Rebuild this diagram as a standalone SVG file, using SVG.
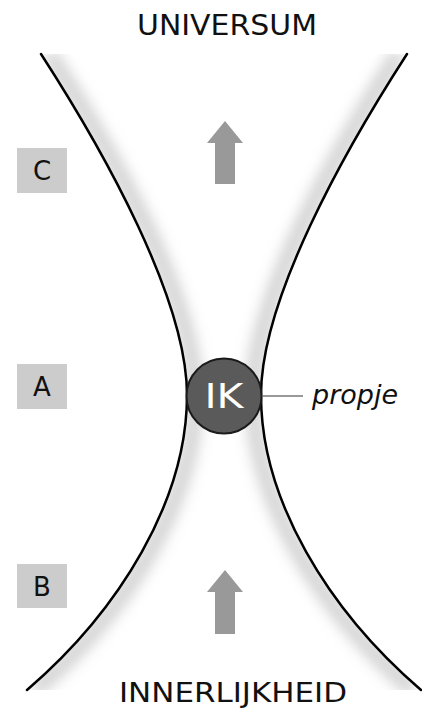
<svg xmlns="http://www.w3.org/2000/svg" width="422" height="711" viewBox="0 0 422 711">
<style>
.t{font-family:"DejaVu Sans","Liberation Sans",sans-serif;fill:#111}
.curve{fill:none;stroke:#000;stroke-width:2.5;stroke-linecap:round}
.glow{fill:none;stroke:#b4b4b4;stroke-width:16;opacity:0.6}
.box{fill:#cccccc}
.arrow{fill:#999999}
</style>
<defs>
<filter id="blur" x="-50%" y="-50%" width="200%" height="200%"><feGaussianBlur stdDeviation="7"/></filter>
<clipPath id="channel"><path d="M41,54 C105,153 187,300 187,395 C187,500 120,610 27,690 L421,690 C328,610 261,500 261,395 C261,300 343,153 407,54 Z"/></clipPath>
</defs>
<rect width="422" height="711" fill="#fff"/>
<g id="shadows" clip-path="url(#channel)">
<path class="glow" filter="url(#blur)" transform="translate(8,0)" d="M41,54 C105,153 187,300 187,395 C187,500 120,610 27,690"/>
<path class="glow" filter="url(#blur)" transform="translate(-8,0)" d="M407,54 C343,153 261,300 261,395 C261,500 328,610 421,690"/>
</g>
<g id="connectors">
<path id="left-curve" class="curve" d="M41,54 C105,153 187,300 187,395 C187,500 120,610 27,690"/>
<path id="right-curve" class="curve" d="M407,54 C343,153 261,300 261,395 C261,500 328,610 421,690"/>
<line x1="263" y1="396" x2="303" y2="396" stroke="#777" stroke-width="1.5"/>
</g>
<g id="arrow-top"><polygon class="arrow" points="225,121 243,143 235,143 235,184 215,184 215,143 207,143"/></g>
<g id="arrow-bottom"><polygon class="arrow" points="225,570 243,592 235,592 235,634 215,634 215,592 207,592"/></g>
<g id="label-universum"><text class="t" x="227" y="35" font-size="28" text-anchor="middle" textLength="180" lengthAdjust="spacingAndGlyphs">UNIVERSUM</text></g>
<g id="label-innerlijkheid"><text class="t" x="233" y="702" font-size="27" text-anchor="middle" textLength="228" lengthAdjust="spacingAndGlyphs">INNERLIJKHEID</text></g>
<g id="node-c"><rect class="box" x="17" y="148" width="50" height="45"/><text class="t" x="42" y="180" font-size="26" text-anchor="middle">C</text></g>
<g id="node-a"><rect class="box" x="17" y="364" width="50" height="45"/><text class="t" x="42" y="396" font-size="26" text-anchor="middle">A</text></g>
<g id="node-b"><rect class="box" x="17" y="564" width="50" height="44"/><text class="t" x="42" y="596" font-size="26" text-anchor="middle">B</text></g>
<g id="node-ik"><circle cx="224" cy="396" r="37.5" fill="#5a5a5a" stroke="#1a1a1a" stroke-width="2"/><text x="224" y="408" font-family="DejaVu Sans, Liberation Sans, sans-serif" font-size="34" fill="#fff" text-anchor="middle" textLength="39" lengthAdjust="spacingAndGlyphs">IK</text></g>
<g id="label-propje"><text class="t" x="312" y="404" font-size="27" font-style="italic">propje</text></g>
</svg>
